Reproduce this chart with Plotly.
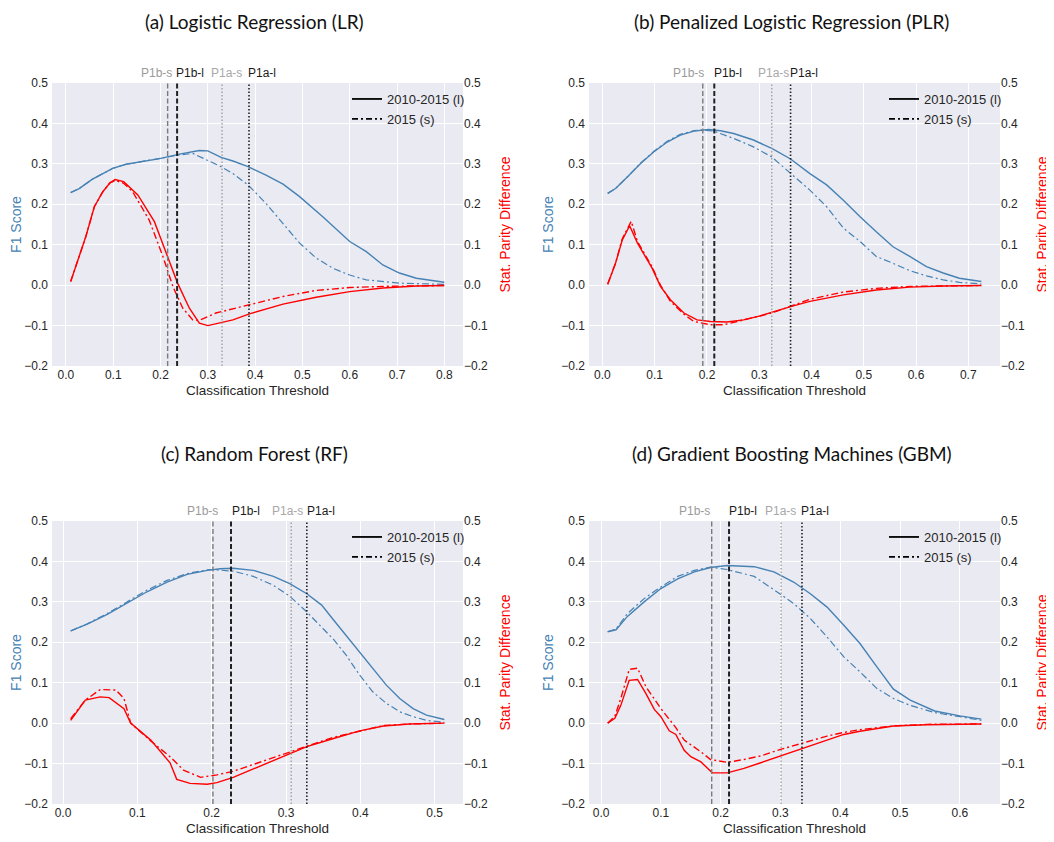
import plotly.graph_objects as go

# ---------------- data ----------------
# (a) Logistic Regression
a_f1_l_x = [0.01, 0.028, 0.056, 0.099, 0.127, 0.169, 0.198, 0.240, 0.282, 0.300, 0.328, 0.353, 0.385, 0.423, 0.459, 0.494, 0.543, 0.600, 0.635, 0.670, 0.705, 0.741, 0.800]
a_f1_l = [0.229, 0.239, 0.262, 0.289, 0.299, 0.308, 0.313, 0.324, 0.333, 0.332, 0.316, 0.307, 0.293, 0.272, 0.250, 0.219, 0.169, 0.108, 0.083, 0.050, 0.030, 0.017, 0.007]
a_f1_s_x = [0.01, 0.028, 0.056, 0.099, 0.127, 0.169, 0.198, 0.240, 0.268, 0.300, 0.328, 0.353, 0.385, 0.423, 0.459, 0.494, 0.529, 0.564, 0.600, 0.635, 0.705, 0.800]
a_f1_s = [0.229, 0.239, 0.262, 0.289, 0.299, 0.308, 0.313, 0.322, 0.326, 0.309, 0.293, 0.276, 0.248, 0.202, 0.153, 0.104, 0.067, 0.042, 0.025, 0.013, 0.005, 0.002]
a_spd_l_x = [0.01, 0.025, 0.042, 0.060, 0.078, 0.093, 0.104, 0.122, 0.152, 0.187, 0.212, 0.236, 0.261, 0.282, 0.300, 0.353, 0.388, 0.459, 0.529, 0.600, 0.670, 0.741, 0.800]
a_spd_l = [0.009, 0.062, 0.120, 0.194, 0.231, 0.253, 0.261, 0.256, 0.223, 0.157, 0.079, 0.005, -0.057, -0.094, -0.100, -0.086, -0.071, -0.047, -0.030, -0.016, -0.007, -0.002, -0.001]
a_spd_s_x = [0.01, 0.025, 0.042, 0.060, 0.078, 0.093, 0.104, 0.122, 0.141, 0.176, 0.205, 0.226, 0.247, 0.268, 0.282, 0.317, 0.388, 0.459, 0.529, 0.600, 0.670, 0.800]
a_spd_s = [0.009, 0.062, 0.120, 0.194, 0.231, 0.253, 0.259, 0.252, 0.231, 0.161, 0.071, -0.003, -0.057, -0.086, -0.087, -0.069, -0.049, -0.028, -0.013, -0.006, -0.003, -0.001]
a_marks = [0.215, 0.235, 0.330, 0.387]

# (b) Penalized Logistic Regression
b_f1_l_x = [0.01, 0.025, 0.048, 0.073, 0.0985, 0.124, 0.149, 0.175, 0.203, 0.226, 0.251, 0.289, 0.324, 0.360, 0.397, 0.429, 0.461, 0.493, 0.524, 0.556, 0.588, 0.620, 0.652, 0.683, 0.725]
b_f1_l = [0.227, 0.239, 0.268, 0.301, 0.330, 0.354, 0.371, 0.381, 0.385, 0.382, 0.375, 0.359, 0.338, 0.312, 0.276, 0.248, 0.210, 0.169, 0.132, 0.095, 0.071, 0.046, 0.030, 0.017, 0.009]
b_f1_s_x = [0.01, 0.025, 0.048, 0.073, 0.0985, 0.124, 0.149, 0.175, 0.190, 0.213, 0.251, 0.289, 0.324, 0.360, 0.397, 0.429, 0.461, 0.493, 0.524, 0.556, 0.588, 0.620, 0.652, 0.683, 0.725]
b_f1_s = [0.227, 0.239, 0.268, 0.302, 0.331, 0.356, 0.373, 0.382, 0.384, 0.381, 0.363, 0.342, 0.317, 0.276, 0.235, 0.194, 0.141, 0.108, 0.071, 0.054, 0.036, 0.023, 0.013, 0.007, 0.003]
b_spd_l_x = [0.01, 0.025, 0.038, 0.052, 0.067, 0.095, 0.111, 0.130, 0.156, 0.181, 0.207, 0.238, 0.270, 0.302, 0.360, 0.397, 0.461, 0.524, 0.588, 0.652, 0.725]
b_spd_l = [0.0025, 0.054, 0.112, 0.147, 0.104, 0.042, -0.003, -0.036, -0.069, -0.086, -0.090, -0.091, -0.086, -0.076, -0.053, -0.040, -0.024, -0.012, -0.005, -0.002, -0.001]
b_spd_s_x = [0.01, 0.025, 0.038, 0.055, 0.067, 0.095, 0.111, 0.130, 0.156, 0.175, 0.207, 0.232, 0.270, 0.324, 0.397, 0.461, 0.524, 0.588, 0.725]
b_spd_s = [0.0025, 0.054, 0.115, 0.158, 0.108, 0.045, 0.0, -0.040, -0.072, -0.090, -0.098, -0.098, -0.086, -0.069, -0.035, -0.017, -0.008, -0.003, -0.001]
b_marks = [0.192, 0.214, 0.324, 0.360]

# (c) Random Forest
c_f1_l_x = [0.0103, 0.0326, 0.0595, 0.086, 0.113, 0.140, 0.167, 0.194, 0.2115, 0.229, 0.256, 0.283, 0.305, 0.328, 0.348, 0.364, 0.381, 0.399, 0.417, 0.435, 0.453, 0.471, 0.489, 0.513]
c_f1_l = [0.228, 0.245, 0.269, 0.296, 0.325, 0.349, 0.368, 0.378, 0.382, 0.383, 0.378, 0.363, 0.345, 0.320, 0.292, 0.255, 0.217, 0.176, 0.135, 0.094, 0.061, 0.036, 0.020, 0.009]
c_f1_s_x = [0.0103, 0.0326, 0.0595, 0.086, 0.113, 0.140, 0.167, 0.194, 0.200, 0.229, 0.256, 0.283, 0.305, 0.328, 0.348, 0.364, 0.381, 0.399, 0.417, 0.435, 0.453, 0.471, 0.489, 0.513]
c_f1_s = [0.228, 0.246, 0.271, 0.299, 0.329, 0.353, 0.370, 0.379, 0.380, 0.376, 0.363, 0.341, 0.314, 0.275, 0.238, 0.207, 0.168, 0.119, 0.077, 0.049, 0.028, 0.016, 0.007, 0.002]
c_spd_l_x = [0.0103, 0.030, 0.050, 0.062, 0.082, 0.091, 0.118, 0.144, 0.153, 0.171, 0.194, 0.207, 0.229, 0.252, 0.274, 0.296, 0.328, 0.364, 0.399, 0.431, 0.466, 0.513]
c_spd_l = [0.007, 0.057, 0.065, 0.063, 0.036, 0.0, -0.042, -0.098, -0.139, -0.149, -0.151, -0.147, -0.134, -0.116, -0.100, -0.083, -0.058, -0.038, -0.019, -0.007, -0.002, 0.0]
c_spd_s_x = [0.0103, 0.030, 0.050, 0.071, 0.082, 0.091, 0.118, 0.144, 0.162, 0.185, 0.207, 0.229, 0.274, 0.305, 0.328, 0.364, 0.399, 0.431, 0.466, 0.513]
c_spd_s = [0.011, 0.057, 0.083, 0.082, 0.061, 0.0, -0.044, -0.083, -0.116, -0.134, -0.128, -0.119, -0.091, -0.071, -0.057, -0.035, -0.019, -0.006, -0.002, 0.0]
c_marks = [0.2017, 0.226, 0.307, 0.328]

# (d) Gradient Boosting Machines
d_f1_l_x = [0.011, 0.025, 0.044, 0.072, 0.100, 0.128, 0.156, 0.183, 0.211, 0.256, 0.289, 0.322, 0.350, 0.378, 0.406, 0.433, 0.461, 0.489, 0.517, 0.558, 0.600, 0.636]
d_f1_l = [0.226, 0.231, 0.264, 0.300, 0.333, 0.357, 0.374, 0.385, 0.390, 0.387, 0.374, 0.349, 0.320, 0.287, 0.242, 0.197, 0.140, 0.084, 0.057, 0.030, 0.018, 0.010]
d_f1_s_x = [0.011, 0.025, 0.044, 0.072, 0.100, 0.128, 0.156, 0.183, 0.211, 0.256, 0.300, 0.322, 0.350, 0.378, 0.406, 0.433, 0.461, 0.489, 0.517, 0.558, 0.600, 0.636]
d_f1_s = [0.226, 0.233, 0.271, 0.308, 0.337, 0.363, 0.378, 0.386, 0.380, 0.363, 0.319, 0.296, 0.259, 0.213, 0.164, 0.127, 0.086, 0.061, 0.044, 0.026, 0.016, 0.007]
d_spd_l_x = [0.011, 0.023, 0.033, 0.047, 0.061, 0.075, 0.089, 0.100, 0.114, 0.125, 0.139, 0.150, 0.167, 0.186, 0.211, 0.239, 0.267, 0.300, 0.336, 0.378, 0.406, 0.433, 0.489, 0.544, 0.636]
d_spd_l = [0.0, 0.012, 0.044, 0.106, 0.108, 0.073, 0.034, 0.016, -0.019, -0.028, -0.067, -0.083, -0.096, -0.123, -0.123, -0.112, -0.098, -0.081, -0.063, -0.042, -0.028, -0.020, -0.007, -0.004, -0.002]
d_spd_s_x = [0.011, 0.023, 0.033, 0.047, 0.061, 0.075, 0.100, 0.125, 0.139, 0.167, 0.183, 0.211, 0.239, 0.267, 0.300, 0.336, 0.378, 0.406, 0.433, 0.489, 0.544, 0.636]
d_spd_s = [0.0, 0.017, 0.061, 0.133, 0.136, 0.090, 0.036, -0.011, -0.042, -0.071, -0.090, -0.097, -0.090, -0.081, -0.065, -0.050, -0.032, -0.023, -0.016, -0.007, -0.003, -0.002]
d_marks = [0.185, 0.214, 0.301, 0.336]

titles = ["(a) Logistic Regression (LR)", "(b) Penalized Logistic Regression (PLR)",
          "(c) Random Forest (RF)", "(d) Gradient Boosting Machines (GBM)"]
mark_labels = ["P1b-s", "P1b-l", "P1a-s", "P1a-l"]
legend_labels = ["2010-2015 (l)", "2015 (s)"]
y_ticks = [-0.2, -0.1, 0.0, 0.1, 0.2, 0.3, 0.4, 0.5]

# ---------------- layout (positions / styles) ----------------
W, H = 1054, 842
OX, OY = 8, 8   # page body offset of the figure inside the browser window
BG = "#EAEAF2"
F1C = "#4682B4"
SPDC = "#FF0000"
TXT = "#262626"
SANS = "Liberation Sans, Arial, sans-serif"
TICKFONT = dict(family=SANS, size=12, color=TXT)

# label text centres (in axis units) for the marker captions above each panel
label_pos = [
    [0.192, 0.263, 0.339, 0.415],
    [0.165, 0.240, 0.3275, 0.386],
    [0.1874, 0.2456, 0.3024, 0.3467],
    [0.1556, 0.2375, 0.300, 0.3582],
]


def px_x(v):
    return (v - OX) / W


def px_y(v):
    return 1 - (v - OY) / H


panels = [
    dict(f1l=(a_f1_l_x, a_f1_l), f1s=(a_f1_s_x, a_f1_s), spl=(a_spd_l_x, a_spd_l), sps=(a_spd_s_x, a_spd_s), marks=a_marks, box=(52, 463, 83, 366)),
    dict(f1l=(b_f1_l_x, b_f1_l), f1s=(b_f1_s_x, b_f1_s), spl=(b_spd_l_x, b_spd_l), sps=(b_spd_s_x, b_spd_s), marks=b_marks, box=(589, 1000, 83, 366)),
    dict(f1l=(c_f1_l_x, c_f1_l), f1s=(c_f1_s_x, c_f1_s), spl=(c_spd_l_x, c_spd_l), sps=(c_spd_s_x, c_spd_s), marks=c_marks, box=(52, 463, 521, 804)),
    dict(f1l=(d_f1_l_x, d_f1_l), f1s=(d_f1_s_x, d_f1_s), spl=(d_spd_l_x, d_spd_l), sps=(d_spd_s_x, d_spd_s), marks=d_marks, box=(589, 1000, 521, 804)),
]

mark_styles = [
    dict(color="#7a7a7a", dash="5px,2.5px", width=1.4),
    dict(color="#222222", dash="5px,2.5px", width=2.0),
    dict(color="#a0a0a0", dash="1.5px,2px", width=1.4),
    dict(color="#222222", dash="1.5px,2px", width=1.6),
]
mark_text_colors = ["#9a9a9a", "#1a1a1a", "#a8a8a8", "#1a1a1a"]

fig = go.Figure()
layout = dict(
    width=W, height=H,
    margin=dict(l=0, r=0, t=0, b=0, autoexpand=False),
    paper_bgcolor="white",
    plot_bgcolor=BG,
    showlegend=True,
    shapes=[], annotations=[],
)

for i, p in enumerate(panels):
    n = i + 1
    xa = "x" if n == 1 else f"x{n}"
    yl_n = 2 * n - 1
    yr_n = 2 * n
    yl = "y" if yl_n == 1 else f"y{yl_n}"
    yr = f"y{yr_n}"
    l, r, t, b = p["box"]
    xdom = [px_x(l), px_x(r)]
    ydom = [px_y(b), px_y(t)]

    allx = p["f1l"][0] + p["f1s"][0] + p["spl"][0] + p["sps"][0]
    xmin, xmax = min(allx), max(allx)
    pad = 0.05 * (xmax - xmin)
    xmax_tick = int(xmax * 10 + 1e-9)
    xt = [k / 10 for k in range(0, xmax_tick + 1)]

    xkey = "xaxis" if n == 1 else f"xaxis{n}"
    ylkey = "yaxis" if yl_n == 1 else f"yaxis{yl_n}"
    yrkey = f"yaxis{yr_n}"

    layout[xkey] = dict(
        domain=xdom, anchor=yl, range=[xmin - pad, xmax + pad], automargin=False,
        tickvals=xt, tickformat=".1f", showgrid=True, gridcolor="white", gridwidth=1,
        zeroline=False, showline=False, ticks="", tickfont=TICKFONT,
        title=dict(text="Classification Threshold", font=dict(family=SANS, size=13.5, color=TXT), standoff=4),
    )
    layout[ylkey] = dict(
        domain=ydom, anchor=xa, range=[-0.2, 0.5], tickvals=y_ticks, tickformat=".1f", automargin=False,
        showgrid=True, gridcolor="white", gridwidth=1, zeroline=False, showline=False, ticks="",
        tickfont=TICKFONT, ticklabelstandoff=3,
        title=dict(text="F1 Score", font=dict(family=SANS, size=14, color=F1C), standoff=4),
    )
    layout[yrkey] = dict(
        overlaying=yl, anchor=xa, side="right", range=[-0.2, 0.5], tickvals=y_ticks, tickformat=".1f",
        automargin=False, showgrid=False, zeroline=False, showline=False, ticks="", tickfont=TICKFONT,
        title=dict(text="Stat. Parity Difference", font=dict(family=SANS, size=14, color=SPDC), standoff=13),
    )

    # curves
    fig.add_trace(go.Scatter(x=p["f1l"][0], y=p["f1l"][1], xaxis=xa, yaxis=yl, mode="lines",
                             line=dict(color=F1C, width=1.4), showlegend=False, hoverinfo="skip"))
    fig.add_trace(go.Scatter(x=p["f1s"][0], y=p["f1s"][1], xaxis=xa, yaxis=yl, mode="lines",
                             line=dict(color=F1C, width=1.2, dash="7px,3px,2px,3px"), showlegend=False, hoverinfo="skip"))
    fig.add_trace(go.Scatter(x=p["spl"][0], y=p["spl"][1], xaxis=xa, yaxis=yr, mode="lines",
                             line=dict(color=SPDC, width=1.4), showlegend=False, hoverinfo="skip"))
    fig.add_trace(go.Scatter(x=p["sps"][0], y=p["sps"][1], xaxis=xa, yaxis=yr, mode="lines",
                             line=dict(color=SPDC, width=1.4, dash="7px,3px,2px,3px"), showlegend=False, hoverinfo="skip"))

    # legend entries
    lg = "legend" if n == 1 else f"legend{n}"
    fig.add_trace(go.Scatter(x=[None], y=[None], xaxis=xa, yaxis=yl, mode="lines", name=legend_labels[0],
                             line=dict(color="black", width=1.8), legend=lg))
    fig.add_trace(go.Scatter(x=[None], y=[None], xaxis=xa, yaxis=yl, mode="lines", name=legend_labels[1],
                             line=dict(color="black", width=1.8, dash="6px,3px,2px,3px"), legend=lg))
    layout[lg] = dict(
        x=px_x(r - 116), y=px_y(t + 1), xanchor="left", yanchor="top",
        bgcolor="rgba(0,0,0,0)", borderwidth=0,
        font=dict(family=SANS, size=13, color=TXT),
        itemwidth=30, tracegroupgap=0,
    )

    # vertical markers
    for k, xv in enumerate(p["marks"]):
        st = mark_styles[k]
        layout["shapes"].append(dict(type="line", xref=xa, yref=f"{yl} domain", x0=xv, x1=xv, y0=0, y1=1,
                                     line=dict(color=st["color"], dash=st["dash"], width=st["width"]), layer="above"))
        layout["annotations"].append(dict(text=mark_labels[k], xref=xa, yref=f"{yl} domain", x=label_pos[i][k], y=1,
                                          xanchor="center", yanchor="bottom", yshift=1,
                                          showarrow=False,
                                          font=dict(family=SANS, size=12, color=mark_text_colors[k])))

    # panel title
    ty = max(t - 68, OY + 13)
    layout["annotations"].append(dict(text=titles[i], xref="paper", yref="paper", x=px_x((l + r - 6) / 2),
                                      y=px_y(ty), xanchor="center", yanchor="middle", showarrow=False,
                                      font=dict(family="Lato, Noto Sans, sans-serif", size=19, color="#111111")))

fig.update_layout(**layout)
fig.write_html("out.html")
